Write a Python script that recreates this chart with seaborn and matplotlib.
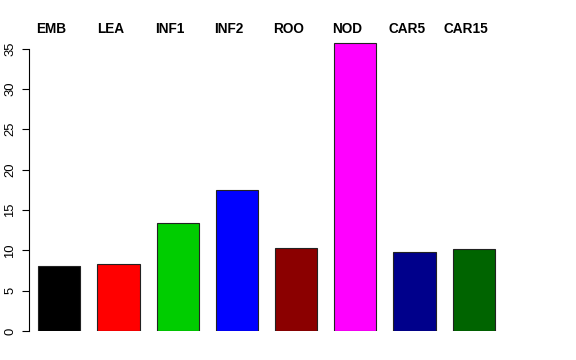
import numpy as np
import pandas as pd
import matplotlib
matplotlib.use("Agg")
import matplotlib.pyplot as plt
import seaborn as sns

# tissue labels and values
tissues = ["EMB", "LEA", "INF1", "INF2", "ROO", "NOD", "CAR5", "CAR15"]
values = [8.0, 8.3, 13.35, 17.47, 10.25, 35.73, 9.75, 10.15]
colors = ["#000000", "#FF0000", "#00CD00", "#0000FF",
          "#8B0000", "#FF00FF", "#00008B", "#006400"]
yticks = [0, 5, 10, 15, 20, 25, 30, 35]

sns.set_style("white")
plt.rcParams['font.family'] = ['Liberation Sans', 'DejaVu Sans']
plt.rcParams['text.color'] = 'black'
plt.rcParams['ytick.color'] = 'black'

df = pd.DataFrame({"tissue": tissues, "value": values})

W, H = 576, 360
fig = plt.figure(figsize=(W / 100, H / 100), dpi=100)
# axes placed in pixel units to mimic the R plot region
left, right, bottom, top = 29, 550, 331, 40.5
ax = fig.add_axes([left / W, (H - bottom) / H, (right - left) / W, (bottom - top) / H])

sns.barplot(data=df, x="tissue", y="value", hue="tissue", palette=colors,
            legend=False, width=0.71, edgecolor="#222222", linewidth=0.8,
            saturation=1, ax=ax)

spacing = 59.2
ax.set_xlim(-(59.3 - left) / spacing, (right - 59.3) / spacing)
ax.set_ylim(0, 36)

for s in ["top", "right", "bottom"]:
    ax.spines[s].set_visible(False)
ax.spines["left"].set_bounds(0, 35)
ax.spines["left"].set_color("black")
ax.spines["left"].set_linewidth(0.8)

ax.set_xticks([])
ax.set_xlabel("")
ax.set_ylabel("")
ax.set_yticks(yticks)
ax.set_yticklabels([str(t) for t in yticks], rotation=90, va="center")
ax.tick_params(axis="y", left=True, length=5, width=0.8, pad=4,
               labelsize=9.4, color="black", labelcolor="black")

# bold names above the bars, shifted slightly left as in the reference
trans = ax.get_xaxis_transform()
yfrac = (bottom - 29) / (bottom - top)
for i, name in enumerate(tissues):
    ax.text(i - 7.9 / spacing, yfrac, name, transform=trans, ha="center",
            va="center", fontsize=9.8, fontweight="bold", color="black",
            clip_on=False)

fig.savefig("out.png", dpi=100)
